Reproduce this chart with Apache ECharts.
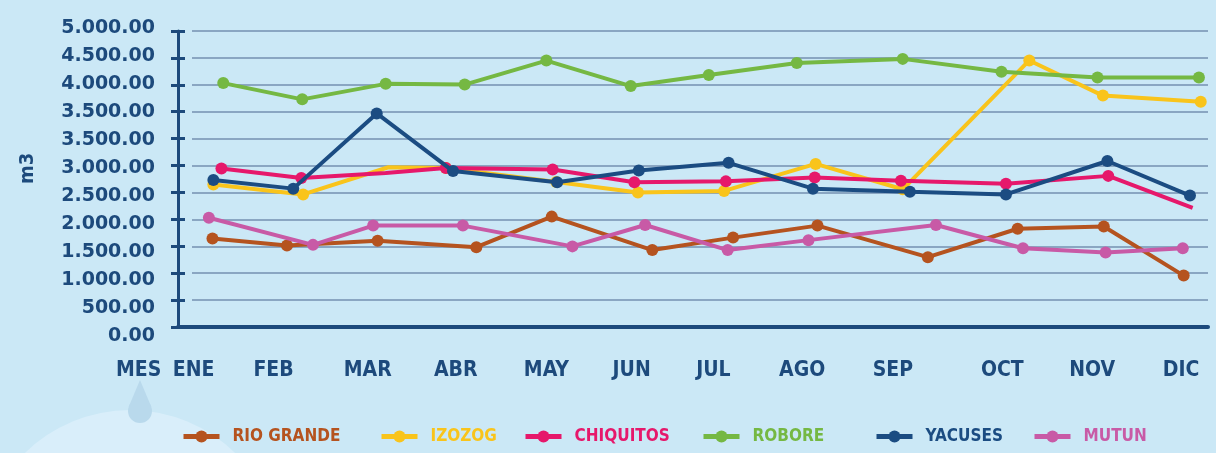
<!DOCTYPE html>
<html>
<head>
<meta charset="utf-8">
<script src="https://cdn.jsdelivr.net/npm/echarts@6/dist/echarts.min.js"></script>
<style>
html,body{margin:0;padding:0;background:#cbe8f6;}
#c{width:1216px;height:453px;}
</style>
</head>
<body>
<div id="c"></div>
<script>
// Categories (month labels) and where each label sits along the month axis
const months = ['ENE','FEB','MAR','ABR','MAY','JUN','JUL','AGO','SEP','OCT','NOV','DIC'];
const monthPos = [0, 0.89, 1.94, 2.92, 3.93, 4.88, 5.79, 6.78, 7.79, 9.01, 10.01, 11.0];

// Y tick labels exactly as printed (bottom to top)
const yTickLabels = ['0.00','500.00','1.000.00','1.500.00','2.000.00','2.500.00','3.000.00','3.500.00','3.500.00','4.000.00','4.500.00','5.000.00'];

const seriesNames = ['RIO GRANDE','IZOZOG','CHIQUITOS','ROBORE','YACUSES','MUTUN'];

// Series values (y, in axis units) and position along month axis (x)
const rioGrandeX = [0.21, 1.04, 2.05, 3.15, 3.99, 5.11, 6.01, 6.95, 8.18, 9.18, 10.14, 11.03];
const rioGrande  = [1644, 1516, 1604, 1484, 2051, 1430, 1661, 1884, 1298, 1825, 1867, 955];

const izozogX = [0.22, 1.22, 2.17, 2.81, 4.04, 4.95, 5.91, 6.93, 7.90, 9.31, 10.13, 11.22];
const izozog  = [2648, 2464, 2968, 2956, 2694, 2500, 2528, 3030, 2559, 4953, 4300, 4186];

const chiquitosX = [0.31, 1.20, 2.14, 2.81, 4.00, 4.91, 5.93, 6.92, 7.88, 9.05, 10.19, 11.13];
const chiquitos  = [2945, 2767, 2861, 2956, 2927, 2689, 2706, 2778, 2719, 2660, 2808, 2214];

const roboreX = [0.33, 1.21, 2.14, 3.02, 3.93, 4.87, 5.74, 6.72, 7.90, 9.00, 10.07, 11.20];
const robore  = [4532, 4230, 4518, 4504, 4950, 4477, 4683, 4905, 4982, 4743, 4635, 4635];

const yacusesX = [0.22, 1.11, 2.04, 2.89, 4.05, 4.96, 5.96, 6.90, 7.98, 9.05, 10.18, 11.10];
const yacuses  = [2731, 2571, 3968, 2897, 2689, 2909, 3050, 2571, 2514, 2464, 3084, 2442];

const mutunX = [0.17, 1.33, 2.00, 3.00, 4.22, 5.03, 5.95, 6.85, 8.27, 9.24, 10.16, 11.02];
const mutun  = [2030, 1526, 1884, 1884, 1498, 1895, 1430, 1614, 1895, 1464, 1384, 1464];

const allX = [rioGrandeX, izozogX, chiquitosX, roboreX, yacusesX, mutunX];
const allY = [rioGrande, izozog, chiquitos, robore, yacuses, mutun];

const colors = ['#b5531f','#f9c41b','#e6186b','#75b843','#1b4c82','#c85aa6'];
const hiddenMarkers = {1:[2], 2:[2,11]};
const legendLeft = [176, 374, 518, 696, 869, 1027];

const NAVY = '#1d4a7c';
const chart = echarts.init(document.getElementById('c'));

const series = seriesNames.map((name, i) => ({
  name: name,
  type: 'line',
  xAxisIndex: 0,
  yAxisIndex: 0,
  data: allX[i].map((x, k) => [x, allY[i][k]]),
  symbol: 'circle',
  symbolSize: (v, p) => ((hiddenMarkers[i] || []).includes(p.dataIndex) ? 0 : 12),
  lineStyle: {color: colors[i], width: 4},
  itemStyle: {color: colors[i]},
  emphasis: {disabled: true},
  z: 3 + i
}));

const legends = seriesNames.map((name, i) => ({
  data: [name],
  left: legendLeft[i],
  top: 423,
  itemWidth: 36,
  itemHeight: 15,
  selectedMode: false,
  lineStyle: {width: 5},
  textStyle: {
    color: colors[i],
    fontFamily: 'DejaVu Sans Condensed',
    fontWeight: 'bold',
    fontSize: 17,
    padding: [0, 0, 0, 8]
  }
}));

const option = {
  backgroundColor: '#cbe8f6',
  animation: false,
  color: colors,
  legend: legends,
  grid: [
    {left: 178, right: 8, top: 31, bottom: 126},
    {left: 192, right: 8, top: 31, bottom: 126},
    {left: 178, right: 8, top: 28, bottom: 117}
  ],
  xAxis: [
    {
      type: 'value', gridIndex: 0, min: -0.174, max: 11.301,
      axisLine: {show: true, onZero: false, lineStyle: {color: NAVY, width: 4}},
      axisTick: {show: false},
      splitLine: {show: false},
      axisLabel: {
        customValues: monthPos,
        formatter: (v) => {
          let best = 0;
          monthPos.forEach((p, k) => { if (Math.abs(p - v) < Math.abs(monthPos[best] - v)) best = k; });
          return months[best];
        },
        color: NAVY, fontFamily: 'DejaVu Sans Condensed', fontWeight: 'bold', fontSize: 21,
        margin: 44, verticalAlign: 'middle'
      }
    },
    {type: 'value', gridIndex: 1, min: 0, max: 1, show: false},
    {type: 'value', gridIndex: 2, min: 0, max: 1, show: false}
  ],
  yAxis: [
    {
      type: 'value', gridIndex: 0, position: 'left', min: 0, max: 5500, interval: 500,
      axisLine: {show: true, onZero: false, lineStyle: {color: NAVY, width: 3}},
      axisTick: {show: true, length: 7, lineStyle: {color: NAVY, width: 3}},
      axisLabel: {show: false},
      splitLine: {show: false}
    },
    {
      type: 'value', gridIndex: 0, position: 'left', min: 0, max: 5500, interval: 500,
      axisLine: {show: false, onZero: false},
      axisTick: {show: true, inside: true, length: 7, lineStyle: {color: NAVY, width: 3}},
      axisLabel: {show: false},
      splitLine: {show: false}
    },
    {
      type: 'value', gridIndex: 1, min: 0, max: 5500, interval: 500,
      axisLine: {show: false}, axisTick: {show: false}, axisLabel: {show: false},
      splitLine: {show: true, lineStyle: {color: '#8aa6c2', width: 2}},
      z: 0
    },
    {
      type: 'value', gridIndex: 2, position: 'left', min: 0, max: 5500, interval: 500,
      axisLine: {show: false, onZero: false}, axisTick: {show: false}, splitLine: {show: false},
      axisLabel: {
        margin: 23,
        formatter: (v) => yTickLabels[Math.round(v / 500)],
        color: NAVY, fontFamily: 'DejaVu Sans', fontWeight: 'bold', fontSize: 19
      }
    }
  ],
  graphic: [
    {type: 'circle', shape: {cx: 130, cy: 560, r: 150}, style: {fill: '#d9eefa'}, z: -10, silent: true},
    {type: 'circle', shape: {cx: 140, cy: 411, r: 12}, style: {fill: '#b9d9ec'}, z: -9, silent: true},
    {type: 'polygon', shape: {points: [[140, 380], [128.6, 407], [151.4, 407]]}, style: {fill: '#b9d9ec'}, z: -9, silent: true},
    {type: 'text', left: 116, top: 360, style: {text: 'MES', fill: NAVY, font: 'bold 21px "DejaVu Sans Condensed"'}, z: 10},
    {type: 'text', x: 18, y: 184, rotation: Math.PI / 2, style: {text: 'm3', fill: NAVY, font: 'bold 20px "DejaVu Sans Condensed"'}, z: 10}
  ],
  series: series
};
chart.setOption(option);
</script>
</body>
</html>
